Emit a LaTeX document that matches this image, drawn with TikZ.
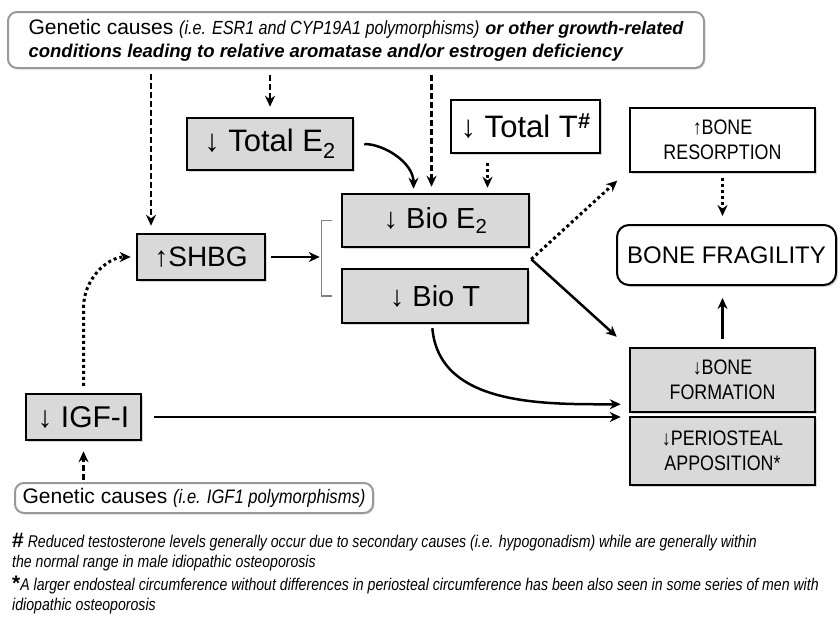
\documentclass[tikz,border=0pt]{standalone}
\usepackage{fontspec}
\setmainfont{Liberation Sans}
\newfontfamily\condfont[FakeStretch=0.85]{Liberation Sans}
\newfontfamily\notefont[FakeStretch=0.83]{Liberation Sans}
\usetikzlibrary{arrows.meta,shadows,calc}
\begin{document}
\begin{tikzpicture}[x=1pt,y=1pt,>={Stealth[length=11pt,width=10pt]},
  graybox/.style={draw,line width=2.5pt,fill=black!15,inner sep=0pt,
    drop shadow={shadow xshift=2pt,shadow yshift=-2pt,opacity=.3}},
  whitebox/.style={graybox,fill=white},
  bonebox/.style={align=center,font=\condfont\fontsize{21}{25}\selectfont},
  cause/.style={draw=black!40,line width=2pt,rounded corners=9pt,fill=white,
    inner ysep=0pt,align=left,font=\fontsize{21}{23}\selectfont,
    drop shadow={shadow xshift=1.5pt,shadow yshift=-1.5pt,opacity=.2}},
  note/.style={anchor=north west,inner sep=0pt,align=left,
    font=\notefont\itshape\fontsize{17}{20}\selectfont},
  dsh/.style={line width=2.5pt,dash pattern=on 6pt off 3pt},
  dts/.style={line width=3pt,dash pattern=on 3pt off 3pt},
  sld/.style={line width=2.5pt}]
\useasboundingbox (0,0) rectangle (838,-621);
% causes
\node[cause,minimum width=696pt,minimum height=56pt] (gencause) at (356,-40)
  {Genetic causes {\condfont\itshape\fontsize{19}{23}\selectfont (i.e. ESR1 and CYP19A1 polymorphisms)}
   {\fontsize{18}{23}\selectfont\bfseries\itshape or other growth-related}\\
   {\fontsize{18.5}{23}\selectfont\bfseries\itshape conditions leading to relative aromatase and/or estrogen deficiency}};
\node[cause,minimum width=358pt,minimum height=30pt] (igfgen) at (194,-498)
  {Genetic causes {\condfont\itshape\fontsize{19.5}{23}\selectfont (i.e. IGF1 polymorphisms)}};
% hormones
\node[graybox,minimum width=166pt,minimum height=52pt,font=\fontsize{31}{36}\selectfont] (totE) at (270,-144) {↓ Total E\textsubscript{2}};
\node[whitebox,minimum width=149pt,minimum height=53pt,font=\fontsize{31}{36}\selectfont] (totT) at (525.5,-126.5) {↓ Total T\textsuperscript{\bfseries\itshape\#}};
\node[graybox,minimum width=187pt,minimum height=53pt,font=\fontsize{29}{34}\selectfont] (bioE) at (435.5,-220.5) {↓ Bio E\textsubscript{2}};
\node[graybox,minimum width=186pt,minimum height=54pt,font=\fontsize{29}{34}\selectfont] (bioT) at (435,-296) {↓ Bio T};
\node[graybox,minimum width=128pt,minimum height=46pt,font=\fontsize{28}{32}\selectfont] (shbg) at (201,-257) {↑SHBG};
\node[graybox,minimum width=115pt,minimum height=46pt,font=\fontsize{30}{34}\selectfont] (igf) at (83.5,-417) {↓ IGF-I};
% bone
\node[whitebox,bonebox,minimum width=185pt,minimum height=64pt] (resorp) at (722.5,-140) {↑BONE\\RESORPTION};
\node[whitebox,minimum width=219pt,minimum height=60pt,rounded corners=12pt,line width=2pt,font=\fontsize{24}{28}\selectfont] (fragil) at (726.5,-255) {BONE FRAGILITY};
\node[graybox,bonebox,minimum width=185pt,minimum height=64pt] (formation) at (722.5,-380) {↓BONE\\FORMATION};
\node[graybox,bonebox,minimum width=185pt,minimum height=68pt] (periost) at (722.5,-451) {↓PERIOSTEAL\\APPOSITION*};
% footnotes
\node[note] (note1) at (12,-533)
  {{\normalfont\bfseries\fontsize{21}{20}\selectfont\#} Reduced testosterone levels generally occur due to secondary causes (i.e. hypogonadism) while are generally within\\
   the normal range in male idiopathic osteoporosis};
\node[note] (note2) at (12,-576)
  {{\normalfont\bfseries\fontsize{21}{20}\selectfont*}A larger endosteal circumference without differences in periosteal circumference has been also seen in some series of men with\\
   idiopathic osteoporosis};
% bracket
\draw[black!50,line width=1.3pt] ([xshift=-9pt]bioE.west) -| ([xshift=-19pt]bioE.west |- bioT.west) -- ([xshift=-9pt]bioT.west);
\coordinate (brkmid) at ($([xshift=-19pt]bioE.west)!.5!([xshift=-19pt]bioT.west)$);
\coordinate (split) at ([shift={(1pt,-11pt)}]bioE.south east);
% arrows
\draw[dsh,->,shorten <=5pt,shorten >=7pt] ([xshift=-50pt]shbg.north |- gencause.south) -- ([xshift=-50pt]shbg.north);
\draw[dsh,->,shorten <=6pt,shorten >=10pt] (gencause.south -| totE.north) -- (totE.north);
\draw[dsh,->,shorten <=6pt,shorten >=6pt] ([xshift=-4pt]bioE.north |- gencause.south) -- ([xshift=-4pt]bioE.north);
\draw[dts,->,shorten <=9pt,shorten >=5pt] ([xshift=-38pt]totT.south) -- ([xshift=-38pt]totT.south |- bioE.north);
\draw[sld,->,shorten <=10pt,shorten >=4pt] (totE.east) to[out=0,in=90] ([xshift=-22pt]bioE.north);
\draw[sld,->,shorten <=5pt,shorten >=2pt] (shbg.east) -- (shbg.east -| brkmid);
\draw[dts,->,shorten <=7pt,shorten >=5pt] (igf.north) -- ++(0,85) to[out=90,in=180] (shbg.west);
\draw[sld,->,shorten <=12pt,shorten >=8pt] (igf.east) -- (igf.east -| periost.west);
\draw[sld,->,shorten <=4pt,shorten >=8pt] ([xshift=-3pt]bioT.south) to[out=-85,in=180] ([yshift=9pt]formation.south west);
\draw[dts,->,shorten >=2pt] (split) -- ([shift={(-10pt,-6pt)}]resorp.south west);
\draw[sld,->] (split) -- ([shift={(-12pt,10pt)}]formation.north west);
\draw[dts,->,shorten <=5pt,shorten >=8pt] (resorp.south) -- (resorp.south |- fragil.north);
\draw[sld,->,shorten <=8pt,shorten >=12pt] (formation.north) -- (formation.north |- fragil.south);
\draw[dsh,->,shorten <=2pt,shorten >=10pt] (igfgen.north -| igf.south) -- (igf.south);
\end{tikzpicture}
\end{document}
